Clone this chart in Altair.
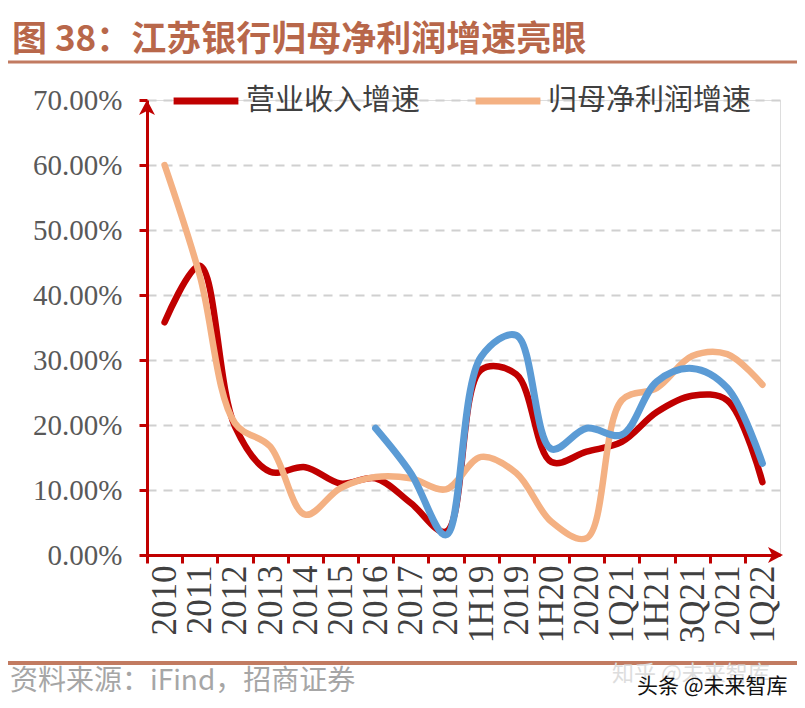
import altair as alt
import pandas as pd

categories = ["2010", "2011", "2012", "2013", "2014", "2015", "2016", "2017", "2018",
              "1H19", "2019", "1H20", "2020", "1Q21", "1H21", "3Q21", "2021", "1Q22"]
revenue_growth = [35.8, 44.5, 19.8, 12.8, 13.5, 11.0, 11.8, 8.0, 3.6,
                  28.5, 27.8, 14.3, 15.9, 17.4, 22.0, 24.5, 23.8, 11.2]
profit_growth = [60.0, 43.0, 20.3, 16.7, 6.2, 10.3, 12.0, 11.8, 10.1,
                 15.1, 12.6, 5.1, 2.6, 23.8, 25.7, 30.6, 30.9, 26.2]
third_growth = [None, None, None, None, None, None, 19.5, 12.6, 3.1,
                30.5, 33.8, 16.3, 19.5, 18.5, 26.7, 28.7, 25.7, 14.1]
series_names = ["营业收入增速", "归母净利润增速"]
y_ticks = [0, 10, 20, 30, 40, 50, 60, 70]

title_text = "图 38：江苏银行归母净利润增速亮眼"
source_text = "资料来源：iFind，招商证券"

W, H = 633, 455
HALF = W / 36
RED = "#C00000"
PEACH = "#F4B183"
BLUE = "#5B9BD5"

rows = []
for c, a, b in zip(categories, revenue_growth, profit_growth):
    rows.append({"cat": c, "series": series_names[0], "v": a})
    rows.append({"cat": c, "series": series_names[1], "v": b})
df = pd.DataFrame(rows)
df3 = pd.DataFrame({"cat": categories, "v": third_growth}).dropna()

x_enc = alt.X(
    "cat:N", sort=categories, title=None,
    scale=alt.Scale(type="point", padding=0.5, domain=categories),
    axis=alt.Axis(labelAngle=270, labelFont="Liberation Serif", labelFontSize=35,
                  labelColor="#404040", labelPadding=2, domainColor=RED, domainWidth=3,
                  tickColor=RED, tickWidth=3, tickSize=8, tickOffset=-HALF,
                  labelOffset=HALF, grid=False, labelOverlap=False),
)
y_enc = alt.Y(
    "v:Q", title=None,
    scale=alt.Scale(domain=[0, 70], nice=False, zero=True),
    axis=alt.Axis(values=y_ticks, labelExpr="format(datum.value, '.2f') + '%'",
                  labelFont="Liberation Serif", labelFontSize=29, labelColor="#595959",
                  labelPadding=17, domainColor=RED, domainWidth=3, tickColor=RED,
                  tickWidth=3, tickSize=8, grid=True, gridColor="#D0D0D0",
                  gridDash=[9, 7], gridWidth=2),
)
color_enc = alt.Color(
    "series:N",
    scale=alt.Scale(domain=series_names, range=[RED, PEACH]),
    legend=alt.Legend(orient="none", legendX=23, legendY=-35, direction="horizontal",
                      title=None, symbolType="stroke", symbolSize=4200,
                      symbolStrokeWidth=7, labelFont="Noto Sans CJK SC",
                      labelFontSize=29, labelColor="#404040", labelLimit=400,
                      columnPadding=40, labelOffset=4, padding=0),
)

base = alt.Chart(df)
red_line = base.transform_filter(alt.datum.series == series_names[0]).mark_line(
    interpolate="catmull-rom", strokeWidth=6.5, strokeCap="round"
).encode(x=x_enc, y=y_enc, color=color_enc)
peach_line = base.transform_filter(alt.datum.series == series_names[1]).mark_line(
    interpolate="catmull-rom", strokeWidth=6.5, strokeCap="round"
).encode(x=x_enc, y=y_enc, color=color_enc)
blue_line = alt.Chart(df3).mark_line(
    interpolate="catmull-rom", strokeWidth=7, strokeCap="round", color=BLUE
).encode(x=alt.X("cat:N", sort=categories), y="v:Q")

one = pd.DataFrame({"a": [0]})
y_arrow = alt.Chart(one).mark_point(
    shape="M0,0 L0.8,1.5 L0,1.1 L-0.8,1.5 Z", size=400, filled=True,
    fill=RED, opacity=1, strokeWidth=0
).encode(x=alt.value(0), y=alt.datum(70))
x_arrow = alt.Chart(one).mark_point(
    shape="M0,0 L-1.5,-0.8 L-1.1,0 L-1.5,0.8 Z", size=400, filled=True,
    fill=RED, opacity=1, strokeWidth=0
).encode(x=alt.value(W + 3), y=alt.datum(0))

title_mark = alt.Chart(one).mark_text(
    text=title_text, align="left", baseline="alphabetic", font="Noto Sans CJK SC",
    fontSize=35, fontWeight="bold", color="#B8674A"
).encode(x=alt.value(-135), y=alt.value(-49))
top_rule = alt.Chart(one).mark_rule(color="#C27B61", strokeWidth=3).encode(
    x=alt.value(-139), x2=alt.value(650), y=alt.value(-38))
bottom_rule = alt.Chart(one).mark_rule(color="#C27B61", strokeWidth=4).encode(
    x=alt.value(-139), x2=alt.value(650), y=alt.value(563))
source_mark = alt.Chart(one).mark_text(
    text=source_text, align="left", baseline="alphabetic", font="Noto Sans CJK SC",
    fontSize=28, color="#A6A6A6"
).encode(x=alt.value(-137), y=alt.value(590))
wm1 = alt.Chart(one).mark_text(
    text="知乎 @未来智库", align="left", baseline="alphabetic", font="Noto Sans CJK SC",
    fontSize=22, color="#DDDDDD"
).encode(x=alt.value(465), y=alt.value(581))
wm2 = alt.Chart(one).mark_text(
    text="头条 @未来智库", align="left", baseline="alphabetic", font="Noto Sans CJK SC",
    fontSize=21, color="#111111"
).encode(x=alt.value(490), y=alt.value(593))

chart = alt.layer(
    red_line, peach_line, blue_line, y_arrow, x_arrow,
    title_mark, top_rule, bottom_rule, source_mark, wm1, wm2
).properties(
    width=W, height=H,
    autosize=alt.AutoSizeParams(type="none"),
    padding={"left": 139, "top": 92, "right": 17, "bottom": 145},
).configure_view(stroke=None).configure(background="white")

chart.save("out.html", embed_options={"renderer": "svg", "actions": False})
